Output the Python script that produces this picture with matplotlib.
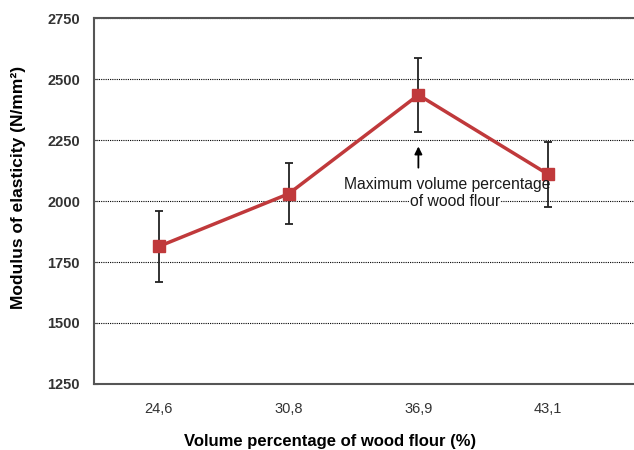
import numpy as np
import matplotlib.pyplot as plt

plt.rcParams['font.family'] = ['Liberation Sans', 'DejaVu Sans']

# data
categories = ['24,6', '30,8', '36,9', '43,1']
modulus = [1814, 2030, 2436, 2110]
errors = [147, 125, 152, 133]
y_ticks = [1250, 1500, 1750, 2000, 2250, 2500, 2750]

fig = plt.figure(figsize=(6.34, 4.5), dpi=100)
ax = fig.add_axes([0.148, 0.147, 0.86, 0.812])

x = np.arange(len(categories))

# grid lines
ax.yaxis.grid(True, linestyle=(0, (1, 1)), color='black', linewidth=0.8)
ax.set_axisbelow(True)

# error bars then the line with markers
ax.errorbar(x, modulus, yerr=errors, fmt='none', ecolor='#222222',
            elinewidth=1.3, capsize=3.2, capthick=1.3, zorder=3)
ax.plot(x, modulus, color='#C0393B', linewidth=2.5, marker='s',
        markersize=8, zorder=4)

# annotation with arrow
ax.annotate('', xy=(2, 2236), xytext=(2, 2126),
            arrowprops=dict(arrowstyle='-|>', color='black', lw=1.3,
                            mutation_scale=11))
ax.text(2.225, 2070, 'Maximum volume percentage',
        ha='center', va='center', fontsize=11.3, color='#1a1a1a', zorder=6)
ax.text(2.28, 1999, 'of wood flour',
        ha='center', va='center', fontsize=11.3, color='#1a1a1a',
        bbox=dict(facecolor='white', edgecolor='none', pad=0.3), zorder=5)

ax.set_xlim(-0.5, 3.7)
ax.set_ylim(1250, 2750)
ax.set_xticks(x)
ax.set_xticklabels(categories)
ax.set_yticks(y_ticks)
ax.tick_params(axis='x', length=0, pad=13, labelsize=10.5, labelcolor='#333333')
ax.tick_params(axis='y', direction='in', length=3, pad=10, labelsize=10.5,
               labelcolor='#333333', color='#555555')
for lab in ax.get_yticklabels():
    lab.set_fontweight('bold')

for side in ['left', 'top', 'bottom']:
    ax.spines[side].set_color('#555555')
    ax.spines[side].set_linewidth(1.5)
ax.spines['right'].set_visible(False)

ax.set_xlabel('Volume percentage of wood flour (%)', fontsize=12,
              fontweight='bold')
ax.set_ylabel('Modulus of elasticity (N/mm²)', fontsize=12.5,
              fontweight='bold')
ax.xaxis.set_label_coords(0.433, -0.138)
ax.yaxis.set_label_coords(-0.125, 0.537)

fig.savefig('out.png', dpi=100)
